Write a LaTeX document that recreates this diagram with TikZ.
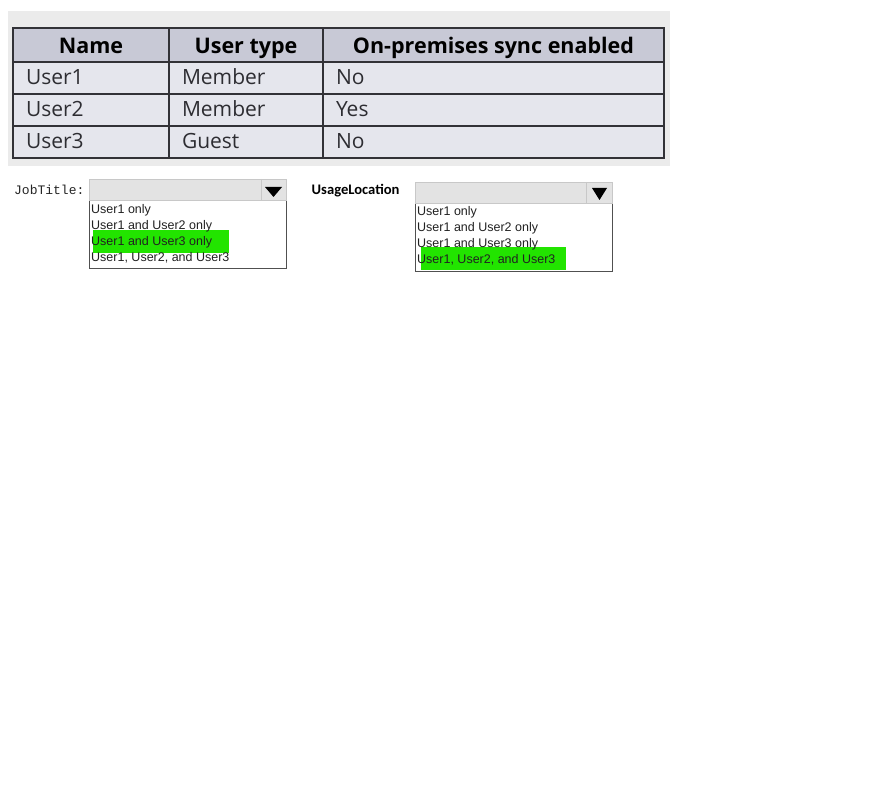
\documentclass[tikz,border=0pt]{standalone}
\usepackage{fontspec}
\setmainfont{Open Sans}
\newfontfamily\tabfont{Open Sans}
\newfontfamily\arialfont{Liberation Sans}
\newfontfamily\courfont{Liberation Mono}
\newfontfamily\calfont{Carlito}
\definecolor{bgpanel}{RGB}{235,235,235}
\definecolor{headfill}{RGB}{200,201,214}
\definecolor{rowfill}{RGB}{229,230,237}
\definecolor{tabline}{RGB}{50,50,55}
\definecolor{rowtext}{RGB}{45,45,50}
\definecolor{ddgray}{RGB}{227,227,227}
\definecolor{ddborder}{RGB}{200,200,200}
\definecolor{listborder}{RGB}{80,80,80}
\definecolor{hlgreen}{RGB}{34,228,0}
\tikzset{
  cellbox/.style={draw=tabline, line width=2pt, rectangle, inner sep=0pt, anchor=north west, minimum height=32pt, text height=18pt, text depth=4pt},
  headcell/.style={cellbox, fill=headfill, minimum height=34pt, text height=21pt, text depth=4pt, font=\tabfont\bfseries\fontsize{21.5}{25}\selectfont, text=black},
  bodycell/.style={cellbox, fill=rowfill, font=\tabfont\fontsize{21}{25}\selectfont, text=rowtext, align=left, inner xsep=13pt},
  ddbox/.style={draw=ddborder, fill=ddgray, line width=0.8pt, rectangle, inner sep=0pt, anchor=north west, minimum width=197pt, minimum height=21pt},
  listbox/.style={draw=listborder, fill=white, line width=0.8pt, rectangle, inner sep=0pt, anchor=north west, minimum width=197pt},
  hlbox/.style={fill=hlgreen, rectangle, inner sep=0pt, anchor=north west},
  itemtext/.style={font=\arialfont\fontsize{12.5}{14}\selectfont, text=black!87, anchor=west, inner sep=0pt},
}
\begin{document}
\begin{tikzpicture}[x=1pt,y=-1pt]
\useasboundingbox (0,0) rectangle (879,794);
\fill[white] (0,0) rectangle (879,794);
% panel
\node[fill=bgpanel, rectangle, inner sep=0pt, anchor=north west, minimum width=662pt, minimum height=155pt] (panel) at (8,11) {};
% header
\node[headcell, minimum width=156pt] (h1) at (12,27) {Name};
\node[headcell, minimum width=154pt] (h2) at (168,27) {User type};
\node[headcell, minimum width=341pt] (h3) at (322,27) {On-premises sync enabled};
% rows
\node[bodycell, text width=130pt] (r1c1) at (12,61) {User1};
\node[bodycell, text width=128pt] (r1c2) at (168,61) {Member};
\node[bodycell, text width=315pt] (r1c3) at (322,61) {No};
\node[bodycell, text width=130pt] (r2c1) at (12,93) {User2};
\node[bodycell, text width=128pt] (r2c2) at (168,93) {Member};
\node[bodycell, text width=315pt] (r2c3) at (322,93) {Yes};
\node[bodycell, text width=130pt] (r3c1) at (12,125) {User3};
\node[bodycell, text width=128pt] (r3c2) at (168,125) {Guest};
\node[bodycell, text width=315pt] (r3c3) at (322,125) {No};

% JobTitle dropdown
\node[font=\courfont\fontsize{13}{15}\selectfont, text=black!85, anchor=west, inner sep=0pt] (jtlabel) at (14,190) {JobTitle:};
\node[listbox, minimum height=68pt] (jtlist) at (89,200) {};
\node[ddbox] (jtbox) at (89,179) {};
\draw[ddborder, line width=0.8pt] (261,179) -- (261,200);
\fill[black] (265,187) -- (282,187) -- (273.5,197) -- cycle;
\node[hlbox, minimum width=136pt, minimum height=23pt] (jthl) at (93,230) {};
\node[itemtext] (jt1) at (91,210) {User1 only};
\node[itemtext] (jt2) at (91,226) {User1 and User2 only};
\node[itemtext] (jt3) at (91,242) {User1 and User3 only};
\node[itemtext] (jt4) at (91,258) {User1, User2, and User3};

% UsageLocation dropdown
\node[font=\calfont\bfseries\fontsize{14.6}{17}\selectfont, text=black, anchor=west, inner sep=0pt] (ullabel) at (311.5,190.5) {UsageLocation};
\node[listbox, minimum height=68pt] (ullist) at (415,203) {};
\node[ddbox] (ulbox) at (415,182) {};
\draw[ddborder, line width=0.8pt] (586,182) -- (586,203);
\fill[black] (592,188) -- (607,188) -- (599.5,200) -- cycle;
\node[hlbox, minimum width=145pt, minimum height=23pt] (ulhl) at (421,247) {};
\node[itemtext] (ul1) at (417,212.5) {User1 only};
\node[itemtext] (ul2) at (417,228.5) {User1 and User2 only};
\node[itemtext] (ul3) at (417,244) {User1 and User3 only};
\node[itemtext] (ul4) at (417,260) {User1, User2, and User3};
\end{tikzpicture}
\end{document}
